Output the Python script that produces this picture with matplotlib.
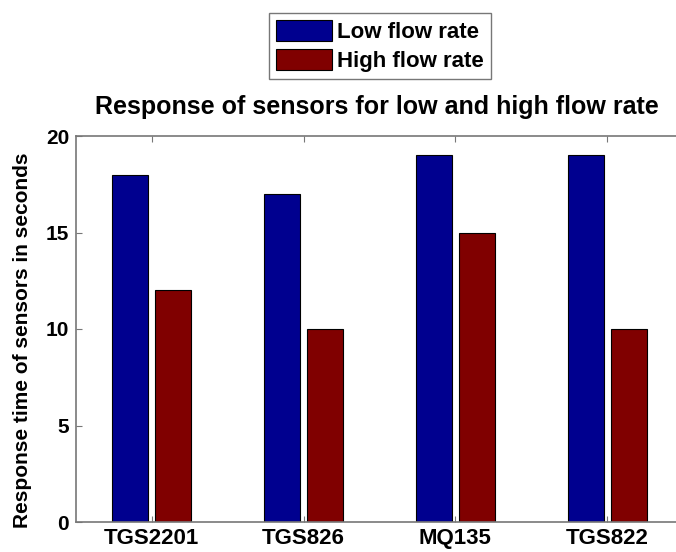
import matplotlib
matplotlib.use("Agg")
import matplotlib.pyplot as plt
import numpy as np

sensors = ["TGS2201", "TGS826", "MQ135", "TGS822"]
low_flow = [18, 17, 19, 19]
high_flow = [12, 10, 15, 10]
y_ticks = [0, 5, 10, 15, 20]
series_names = ["Low flow rate", "High flow rate"]

plt.rcParams['font.family'] = ['Liberation Sans', 'DejaVu Sans']

fig = plt.figure(figsize=(6.76, 5.52), dpi=100)
ax = fig.add_axes([76/676, 30/552, (683-76)/676, (522-136)/552])

x = np.arange(1, len(sensors) + 1)
w = 0.237
off = 0.142
blue = '#00008F'
red = '#800000'
b1 = ax.bar(x - off, low_flow, width=w, color=blue, edgecolor='black', linewidth=0.8, label=series_names[0])
b2 = ax.bar(x + off, high_flow, width=w, color=red, edgecolor='black', linewidth=0.8, label=series_names[1])

ax.set_xlim(0.5, 4.5)
ax.set_ylim(0, 20)
ax.set_yticks(y_ticks)
ax.set_xticks(x)
ax.set_xticklabels(sensors, fontweight='bold', fontsize=16)
ax.set_yticklabels([str(t) for t in y_ticks], fontweight='bold', fontsize=15)
ax.tick_params(direction='in', length=4, width=0.8, color='#777777', top=True, right=True)
ax.tick_params(axis='x', pad=4)
ax.tick_params(axis='y', pad=5)
for s in ax.spines.values():
    s.set_color('#777777')
    s.set_linewidth(1.2)

ax.set_ylabel("Response time of sensors in seconds", fontweight='bold', fontsize=15)
ax.yaxis.set_label_coords((32 - 76) / 607, (522 - 340) / 386)
fig.text(377/676, 1 - 107/552, "Response of sensors for low and high flow rate",
         ha='center', va='center', fontweight='bold', fontsize=18)

leg = fig.legend(handles=[b1, b2], labels=series_names, loc='center',
                 bbox_to_anchor=(380/676, 1 - 46/552),
                 prop={'weight': 'bold', 'size': 16},
                 fancybox=False, edgecolor='#777777', framealpha=1,
                 handlelength=2.5, handleheight=1.05, handletextpad=0.25,
                 labelspacing=0.28, borderpad=0.3)
leg.get_frame().set_linewidth(1.0)

fig.savefig("out.png", dpi=100)
